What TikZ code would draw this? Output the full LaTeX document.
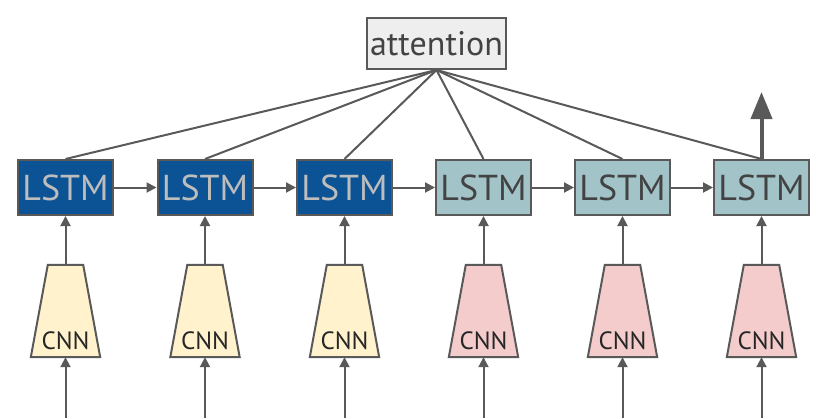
\documentclass[tikz,border=0pt]{standalone}
\usepackage{fontspec}
\setmainfont{PT Sans}
\usetikzlibrary{arrows.meta,calc}
\definecolor{edge}{HTML}{595959}
\definecolor{dblue}{HTML}{0B5394}
\definecolor{dtext}{HTML}{BDBDBD}
\definecolor{teal}{HTML}{A2C4C9}
\definecolor{ttext}{HTML}{434343}
\definecolor{cyel}{HTML}{FFF2CC}
\definecolor{cpink}{HTML}{F4CCCC}
\definecolor{attfill}{HTML}{EEEEEE}
\tikzset{
  lstmbox/.style={draw=edge, line width=2pt, minimum width=95pt, minimum height=55pt, inner sep=0pt,
    font=\fontsize{36}{36}\selectfont},
  enc/.style={lstmbox, fill=dblue, text=dtext},
  dec/.style={lstmbox, fill=teal, text=ttext},
  cnnbox/.style={minimum width=69pt, minimum height=92pt, inner sep=0pt},
  trap/.style={draw=edge, line width=2pt, line join=miter},
  cnnlab/.style={font=\fontsize{25}{25}\selectfont, text=black!85, inner sep=0pt},
  conn/.style={draw=edge, line width=2pt},
  arr/.style={conn, -{Triangle[length=10pt,width=10pt]}},
}
\begin{document}
\begin{tikzpicture}[x=1pt,y=-1pt]
\useasboundingbox (0,0) rectangle (830,418);
\node[draw=edge, line width=2pt, fill=attfill, minimum width=139pt, minimum height=51pt, inner sep=0pt,
  text=ttext, font=\fontsize{34}{34}\selectfont] (att) at (436.5,43.5) {attention};
\foreach \i/\x/\st/\cf in {1/65.5/enc/cyel,2/205/enc/cyel,3/344.5/enc/cyel,4/483.5/dec/cpink,5/622.5/dec/cpink,6/761.5/dec/cpink}{
  \node[\st] (l\i) at (\x,187.5) {LSTM};
  \node[cnnbox] (c\i) at (\x,311) {};
  \draw[trap, fill=\cf] (c\i.south west) -- (c\i.south east) -- ($(c\i.north east)+(-17,0)$)
     -- ($(c\i.north west)+(17,0)$) -- cycle;
  \node[cnnlab] (t\i) at (\x,341) {CNN};
  \coordinate (in\i) at (\x,418);
  \draw[arr] (in\i) -- (c\i.south);
  \draw[arr] (c\i.north) -- (l\i.south);
  \draw[conn] (att.south) -- (l\i.north);
}
\foreach \a/\b in {1/2,2/3,3/4,4/5,5/6}{
  \draw[arr] (l\a.east) -- (l\b.west);
}
\coordinate (out) at (761.5,92);
\draw[draw=edge, line width=4pt, -{Triangle[length=27pt,width=21pt]}] (l6.north) -- (out);
\end{tikzpicture}
\end{document}
